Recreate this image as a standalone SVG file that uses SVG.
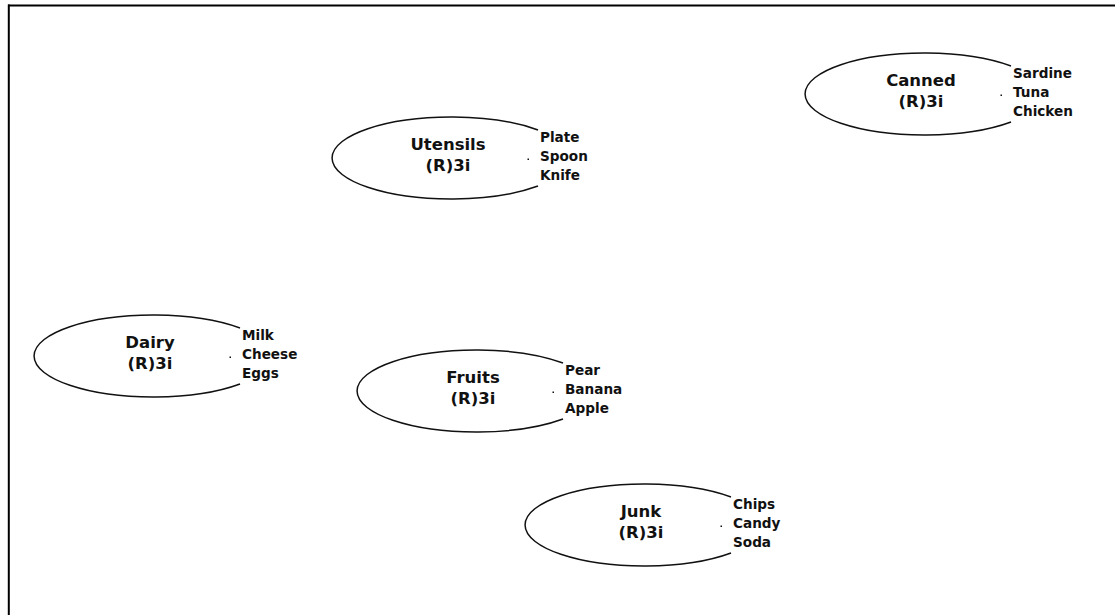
<svg xmlns="http://www.w3.org/2000/svg" width="1115" height="615" viewBox="0 0 1115 615">
<defs>
<style>
.bg{fill:#ffffff}
.frame{stroke:#000;stroke-width:2;fill:none}
.ell{fill:none;stroke:#111;stroke-width:1.5}
.title{font-family:"DejaVu Sans",Verdana,sans-serif;font-weight:bold;font-size:16.5px;fill:#111;text-anchor:middle}
.item{font-family:"DejaVu Sans",Verdana,sans-serif;font-weight:bold;font-size:13.6px;fill:#111}
.dot{fill:#111}
</style>
<g id="node-shape">
<path class="ell" d="M90,13 A119,41 0 1 0 90,69"/>
<rect class="dot" x="79.5" y="41.5" width="1.5" height="1.5"/>
</g>
</defs>
<rect class="bg" x="0" y="0" width="1115" height="615"/>
<g id="frame">
<line class="frame" x1="8" y1="5.5" x2="1115" y2="5.5"/>
<line class="frame" x1="8.8" y1="4.5" x2="8.8" y2="615"/>
</g>
<g id="connectors"></g>
<g id="canned" transform="translate(921,53)">
<use href="#node-shape"/>
<text class="title" x="0" y="32.5">Canned</text>
<text class="title" x="0" y="53.5">(R)3i</text>
<text class="item" x="92" y="25">Sardine</text>
<text class="item" x="92" y="44">Tuna</text>
<text class="item" x="92" y="63">Chicken</text>
</g>
<g id="utensils" transform="translate(448,117)">
<use href="#node-shape"/>
<text class="title" x="0" y="32.5">Utensils</text>
<text class="title" x="0" y="53.5">(R)3i</text>
<text class="item" x="92" y="25">Plate</text>
<text class="item" x="92" y="44">Spoon</text>
<text class="item" x="92" y="63">Knife</text>
</g>
<g id="dairy" transform="translate(150,315)">
<use href="#node-shape"/>
<text class="title" x="0" y="32.5">Dairy</text>
<text class="title" x="0" y="53.5">(R)3i</text>
<text class="item" x="92" y="25">Milk</text>
<text class="item" x="92" y="44">Cheese</text>
<text class="item" x="92" y="63">Eggs</text>
</g>
<g id="fruits" transform="translate(473,350)">
<use href="#node-shape"/>
<text class="title" x="0" y="32.5">Fruits</text>
<text class="title" x="0" y="53.5">(R)3i</text>
<text class="item" x="92" y="25">Pear</text>
<text class="item" x="92" y="44">Banana</text>
<text class="item" x="92" y="63">Apple</text>
</g>
<g id="junk" transform="translate(641,484)">
<use href="#node-shape"/>
<text class="title" x="0" y="32.5">Junk</text>
<text class="title" x="0" y="53.5">(R)3i</text>
<text class="item" x="92" y="25">Chips</text>
<text class="item" x="92" y="44">Candy</text>
<text class="item" x="92" y="63">Soda</text>
</g>
</svg>
